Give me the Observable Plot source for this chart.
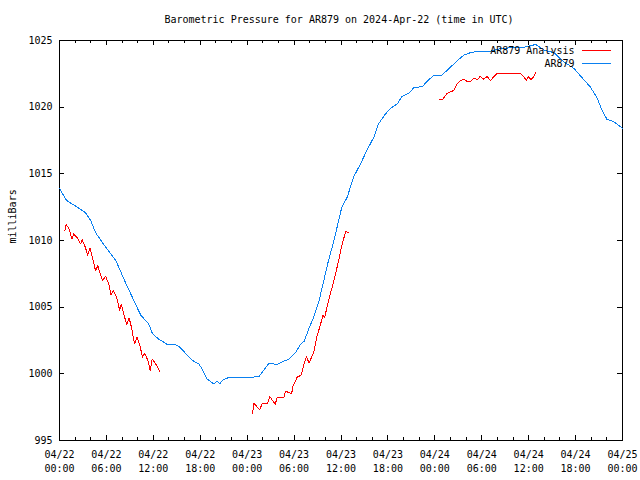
<!DOCTYPE html>
<html>
<head>
<meta charset="utf-8">
<script src="https://cdn.jsdelivr.net/npm/d3@7"></script>
<script src="https://cdn.jsdelivr.net/npm/@observablehq/plot@0.6"></script>
<style>
  html, body { margin: 0; padding: 0; background: #fff; }
  svg { shape-rendering: crispEdges; }
</style>
</head>
<body>
<div id="chart"></div>
<script>
// ---- Data (hours since 2024-04-22 00:00 UTC, pressure in millibars) ----
const titleText = "Barometric Pressure for AR879 on 2024-Apr-22 (time in UTC)";
const yLabelText = "milliBars";
const seriesNames = ["AR879 Analysis", "AR879"];

const stationHours = [0, 0.9, 2.0, 3.3, 4.0, 4.6, 5.9, 7.2, 8.4, 9.9, 10.4, 11.4, 11.9, 12.7, 13.8, 14.8,
  15.3, 16.1, 17.0, 17.8, 18.2, 18.9, 19.7, 20.2, 20.5, 20.8, 21.7, 22.7, 24.0, 25.5, 26.1, 26.8,
  27.8, 28.5, 29.3, 30.2, 30.8, 31.3, 31.9, 32.5, 33.2, 33.8, 34.4, 35.1, 35.7, 36.1, 36.8, 37.6,
  38.5, 39.3, 40.2, 40.8, 41.7, 42.3, 43.2, 43.8, 44.7, 45.3, 46.4, 47.2, 47.9, 48.9, 50.0, 50.9,
  51.7, 52.6, 53.8, 55.1, 56.4, 57.7, 59.0, 59.8, 60.9, 62.1, 63.2, 64.5, 65.8, 67.0, 67.9, 68.7,
  69.4, 70.0, 70.9, 71.8, 72.0];
const stationPressure = [1013.9, 1013.0, 1012.6, 1012.1, 1011.5, 1010.6, 1009.5, 1008.5, 1006.9, 1005.0, 1004.4, 1003.75, 1003.0, 1002.6, 1002.2, 1002.2,
  1002.05, 1001.55, 1001.0, 1000.75, 1000.4, 999.6, 999.25, 999.45, 999.25, 999.5, 999.75, 999.75, 999.7, 999.8, 1000.25, 1000.8,
  1000.7, 1000.9, 1001.1, 1001.6, 1002.2, 1002.45, 1003.4, 1004.25, 1005.5, 1007.0, 1008.5, 1010.0, 1011.5, 1012.5, 1013.25, 1014.75,
  1015.75, 1016.75, 1017.75, 1018.75, 1019.5, 1019.9, 1020.25, 1020.8, 1021.05, 1021.45, 1021.55, 1022.05, 1022.4, 1022.4, 1023.0, 1023.5,
  1023.9, 1024.1, 1024.2, 1024.2, 1024.4, 1024.45, 1024.45, 1024.55, 1024.7, 1024.25, 1024.1, 1023.4, 1022.9, 1022.1, 1021.5, 1020.75,
  1019.75, 1019.1, 1018.9, 1018.5, 1018.4];

const analysis1Hours = [0.7, 0.85, 1.2, 1.6, 1.8, 2.3, 2.7, 2.9, 3.3, 3.6, 3.9, 4.2, 4.6, 4.9, 5.2, 5.5, 5.9, 6.3, 6.6, 6.9,
  7.3, 7.7, 7.9, 8.2, 8.6, 8.9, 9.2, 9.6, 9.9, 10.3, 10.6, 10.9, 11.3, 11.6, 11.85, 12.3, 12.8];
const analysis1Pressure = [1010.75, 1011.2, 1010.9, 1010.1, 1010.5, 1010.2, 1009.75, 1010.05, 1009.5, 1008.9, 1009.4, 1008.75, 1007.75, 1008.1, 1007.5, 1007.0, 1007.3, 1006.75, 1005.9, 1006.25,
  1005.75, 1004.75, 1005.2, 1004.5, 1003.7, 1004.2, 1003.5, 1002.25, 1002.75, 1002.1, 1001.25, 1001.55, 1001.0, 1000.25, 1001.1, 1000.75, 1000.2];

const analysis2Hours = [24.7, 24.85, 25.6, 25.9, 26.6, 26.9, 27.6, 27.8, 28.7, 28.9, 29.7, 29.8, 30.4, 30.9, 31.2, 31.6,
  31.9, 32.5, 32.9, 33.4, 33.7, 33.9, 34.4, 35.1, 35.7, 36.1, 36.6, 36.9];
const analysis2Pressure = [997.0, 997.8, 997.3, 997.75, 997.75, 998.3, 997.7, 998.2, 998.2, 998.7, 998.5, 999.0, 999.75, 999.9, 1000.6, 1001.3,
  1000.8, 1001.6, 1002.75, 1003.75, 1004.4, 1004.2, 1005.5, 1007.0, 1008.5, 1009.6, 1010.7, 1010.6];

const analysis3Hours = [48.6, 49.0, 49.6, 50.4, 50.8, 51.3, 51.7, 52.1, 52.5, 53.0, 53.4, 53.8, 54.2, 54.7, 55.1, 55.5,
  55.9, 57.2, 59.0, 59.4, 59.7, 60.0, 60.3, 60.6, 60.9];
const analysis3Pressure = [1020.55, 1020.6, 1021.05, 1021.25, 1021.7, 1022.0, 1022.1, 1021.95, 1021.9, 1022.2, 1022.05, 1022.3, 1022.1, 1022.3, 1022.0, 1022.25,
  1022.5, 1022.5, 1022.5, 1022.25, 1022.0, 1022.3, 1022.05, 1022.25, 1022.6];

const xMajorTickHours = [0, 6, 12, 18, 24, 30, 36, 42, 48, 54, 60, 66, 72];
const xMinorTickHours = [2, 4, 8, 10, 14, 16, 20, 22, 26, 28, 32, 34, 38, 40, 44, 46, 50, 52, 56, 58, 62, 64, 68, 70];
const yTicks = [995, 1000, 1005, 1010, 1015, 1020, 1025];
const yDomain = [995, 1025];

// ---- Build ----
const t0 = Date.UTC(2024, 3, 22, 0, 0, 0);
const toDate = h => new Date(t0 + h * 3600e3);
const pts = (hs, ps) => hs.map((h, i) => ({t: toDate(h), p: ps[i]}));
const station = pts(stationHours, stationPressure);
const analysisSegs = [pts(analysis1Hours, analysis1Pressure), pts(analysis2Hours, analysis2Pressure), pts(analysis3Hours, analysis3Pressure)];
const majorDates = xMajorTickHours.map(toDate);
const minorDates = xMinorTickHours.map(toDate);
const fmt = d3.utcFormat("%m/%d\n%H:%M");

const RED = "#ff0000";
const BLUE = "#0a80f0";
const W = 640, H = 480, ML = 59, MR = 18, MT = 40, MB = 40;
const PW = W - ML - MR, PH = H - MT - MB;
const seg = {draw(context, l) { context.moveTo(0, 0); context.lineTo(0, -l); }};

const chart = Plot.plot({
  width: W, height: H,
  marginLeft: ML, marginRight: MR, marginTop: MT, marginBottom: MB,
  style: {fontFamily: "'DejaVu Sans Mono', monospace", fontSize: "10px", color: "#000", background: "#fff"},
  x: {type: "utc", domain: [toDate(0), toDate(72)]},
  y: {domain: yDomain},
  marks: [
    // tick marks (inward, mirrored)
    Plot.ruleX(majorDates, {x: d => d, insetTop: PH - 5, stroke: "#000"}),
    Plot.ruleX(majorDates, {x: d => d, insetBottom: PH - 5, stroke: "#000"}),
    Plot.ruleX(minorDates, {x: d => d, insetTop: PH - 3, stroke: "#000"}),
    Plot.ruleX(minorDates, {x: d => d, insetBottom: PH - 3, stroke: "#000"}),
    Plot.ruleY(yTicks, {y: d => d, insetRight: PW - 5, stroke: "#000"}),
    Plot.ruleY(yTicks, {y: d => d, insetLeft: PW - 5, stroke: "#000"}),
    Plot.axisX({ticks: majorDates, tickFormat: fmt, tickSize: 0, tickPadding: 8, lineHeight: 1.4, label: null, fontSize: 10}),
    Plot.axisY({ticks: yTicks, tickFormat: d => String(d), tickSize: 0, tickPadding: 7, label: null, fontSize: 10}),
    Plot.frame({stroke: "#000"}),
    // data
    Plot.line(station, {x: "t", y: "p", stroke: BLUE, strokeWidth: 1}),
    ...analysisSegs.map(s => Plot.line(s, {x: "t", y: "p", stroke: RED, strokeWidth: 1})),
    // title & y label
    Plot.text([titleText], {frameAnchor: "top", dy: -21, dx: -2, text: d => d, fontSize: 10, lineAnchor: "middle"}),
    Plot.text([yLabelText], {frameAnchor: "left", dx: -47, dy: 3, rotate: -90, text: d => d, fontSize: 10, lineAnchor: "middle"}),
    // legend
    Plot.text([seriesNames[0]], {frameAnchor: "top-right", dx: -48, dy: 10, text: d => d, textAnchor: "end", lineAnchor: "middle", fontSize: 10}),
    Plot.text([seriesNames[1]], {frameAnchor: "top-right", dx: -48, dy: 23, text: d => d, textAnchor: "end", lineAnchor: "middle", fontSize: 10}),
    Plot.vector([seriesNames[0]], {frameAnchor: "top-right", dx: -12, dy: 9.5, length: 29, rotate: 90, anchor: "end", shape: seg, stroke: RED, strokeWidth: 1}),
    Plot.vector([seriesNames[1]], {frameAnchor: "top-right", dx: -12, dy: 22.5, length: 29, rotate: 90, anchor: "end", shape: seg, stroke: BLUE, strokeWidth: 1})
  ]
});
document.getElementById("chart").appendChild(chart);
</script>
</body>
</html>
